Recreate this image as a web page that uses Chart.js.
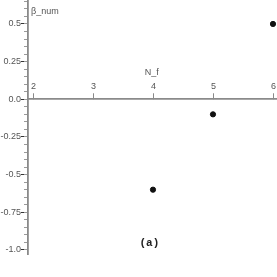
<!DOCTYPE html>
<html>
<head>
<meta charset="utf-8">
<script src="https://cdn.jsdelivr.net/npm/chart.js@4"></script>
<style>
  html, body { margin: 0; padding: 0; background: #fff; }
  #wrap { width: 277px; height: 277px; }
</style>
</head>
<body>
<div id="wrap"><canvas id="chart"></canvas></div>
<script>
// данные
const nf = [4, 5, 6];
const betaNum = [-0.6, -0.1, 0.5];
const xTickStep = 1;
const yMajorStep = 0.25;
const yMinorStep = 0.05;

const axisGrey = '#8a8a8a';
const textGrey = '#555';
const tickFont = '9px "Liberation Sans", Arial, sans-serif';

// засечки и подписи оси X над осью (как в оригинале)
const xAxisPlugin = {
    id: 'xAxisAbove',
    afterDraw(chart) {
        const { ctx, scales } = chart;
        const x = scales.x, y0 = scales.y.getPixelForValue(0);
        ctx.save();
        ctx.strokeStyle = axisGrey;
        ctx.lineWidth = 1;
        ctx.fillStyle = textGrey;
        ctx.font = tickFont;
        ctx.textAlign = 'center';
        ctx.textBaseline = 'middle';
        x.ticks.forEach(t => {
            const px = Math.round(x.getPixelForValue(t.value)) + 0.5;
            ctx.beginPath();
            ctx.moveTo(px, y0 - 6);
            ctx.lineTo(px, y0);
            ctx.stroke();
            ctx.fillText(String(t.value), px, y0 - 13);
        });
        ctx.restore();
    }
};

// подписи осей и метка (a)
const labelsPlugin = {
    id: 'labels',
    afterDraw(chart) {
        const { ctx, scales } = chart;
        const x = scales.x, y = scales.y;
        ctx.save();
        ctx.fillStyle = textGrey;
        ctx.font = tickFont;
        ctx.textBaseline = 'middle';
        ctx.textAlign = 'center';
        ctx.fillText('N_f', x.getPixelForValue(3.98), y.getPixelForValue(0.18));
        ctx.textAlign = 'left';
        ctx.fillText('β_num', x.left + 3, y.getPixelForValue(0.585));
        ctx.fillStyle = '#222';
        ctx.font = 'bold 11px "Liberation Mono", monospace';
        ctx.textAlign = 'center';
        ctx.fillText('(a)', x.getPixelForValue(3.94), y.getPixelForValue(-0.955));
        ctx.restore();
    }
};

const noPad = s => { s.paddingTop = 0; s.paddingBottom = 0; s.paddingLeft = 0; s.paddingRight = 0; };

new Chart(document.getElementById('chart'), {
    type: 'scatter',
    data: {
        datasets: [{
            data: nf.map((v, i) => ({ x: v, y: betaNum[i] })),
            backgroundColor: '#111',
            borderColor: '#111',
            pointRadius: 2.6,
            pointHoverRadius: 2.6
        }]
    },
    options: {
        responsive: true,
        maintainAspectRatio: false,
        animation: false,
        layout: { autoPadding: false, padding: { top: 0, right: 0, bottom: 23, left: 0 } },
        plugins: { legend: { display: false }, tooltip: { enabled: false } },
        scales: {
            x: {
                type: 'linear',
                min: 1.917,
                max: 6.067,
                position: { y: 0 },
                afterFit: noPad,
                ticks: { stepSize: xTickStep, includeBounds: false, display: false },
                grid: { drawOnChartArea: false, drawTicks: false },
                border: { color: axisGrey, width: 1.8 }
            },
            y: {
                type: 'linear',
                min: -1.027,
                max: 0.659,
                weight: 1,
                afterFit: s => { s.width = 28; noPad(s); },
                ticks: {
                    stepSize: yMajorStep,
                    includeBounds: false,
                    color: textGrey,
                    font: { size: 9, family: '"Liberation Sans", Arial, sans-serif' },
                    padding: 0,
                    callback: v => v === 0 ? '0.0' : (v === -1 ? '-1.0' : v)
                },
                grid: { drawOnChartArea: false, tickLength: 7, tickColor: '#333' },
                border: { color: axisGrey, width: 1.8 }
            },
            yMinor: {
                type: 'linear',
                min: -1.027,
                max: 0.659,
                position: 'left',
                weight: 0,
                afterFit: s => { s.width = 0; noPad(s); },
                ticks: { stepSize: yMinorStep, includeBounds: false, display: false },
                grid: { drawOnChartArea: false, tickLength: 4, tickColor: '#9a9a9a' },
                border: { display: false }
            }
        }
    },
    plugins: [xAxisPlugin, labelsPlugin]
});
</script>
</body>
</html>
